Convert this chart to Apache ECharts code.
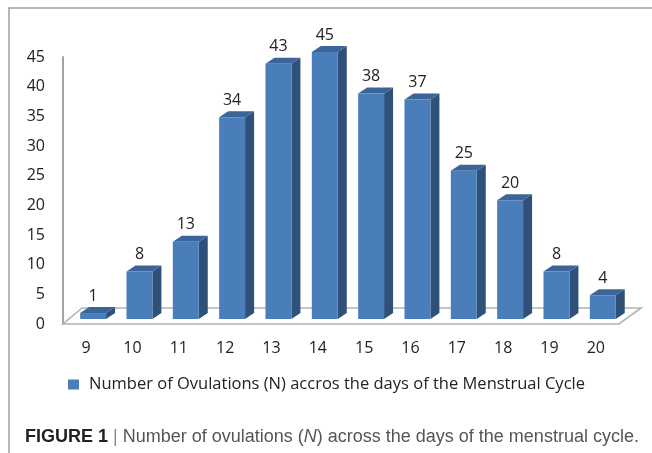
<!DOCTYPE html>
<html>
<head>
<meta charset="utf-8">
<script src="https://cdn.jsdelivr.net/npm/echarts@6/dist/echarts.min.js"></script>
<style>
  html, body { margin: 0; padding: 0; background: #fff; }
  #chart { width: 652px; height: 453px; }
</style>
</head>
<body>
<div id="chart"></div>
<script>
  // days of the cycle and number of ovulations per day
  const days = ['9', '10', '11', '12', '13', '14', '15', '16', '17', '18', '19', '20'];
  const ovulations = [1, 8, 13, 34, 43, 45, 38, 37, 25, 20, 8, 4];
  const yMax = 45;
  const yStep = 5;
  const seriesName = 'Number of Ovulations (N) accros the days of the Menstrual Cycle';

  const FRONT = '#4a7ebb';
  const SIDE = '#2f5079';
  const TOP = '#3b6498';
  const FONT = '"Open Sans", sans-serif';
  const CAP_FONT = '"Liberation Sans", Arial, sans-serif';

  let chart = echarts.init(document.getElementById('chart'));

  // floor of the 3d plot, drawn from grid rect
  function renderFloor(params, api) {
    let cs = params.coordSys;
    let yb = cs.y + cs.height;
    return {
      type: 'polygon',
      shape: {
        points: [[cs.x, yb], [cs.x + cs.width, yb], [cs.x + cs.width + 22, yb - 16], [cs.x + 19, yb - 16]]
      },
      style: { fill: '#fff', stroke: '#b3b3b3', lineWidth: 1.6 }
    };
  }

  function renderBar(params, api) {
    let i = api.value(0);
    let v = api.value(1);
    let base = api.coord([i, 0]);
    let top = api.coord([i, v]);
    let band = api.size([1, 0])[0];
    let off = 5;          // bars stand a bit behind the front edge
    let dx = 9, dy = 6;   // depth of bar
    let x1 = base[0] - band * 0.13;
    let w = band * 0.56;
    let yb = base[1] - off;
    let yt = top[1] - off;
    return {
      type: 'group',
      children: [
        {
          type: 'polygon',
          shape: { points: [[x1 + w, yb], [x1 + w, yt], [x1 + w + dx, yt - dy], [x1 + w + dx, yb - dy]] },
          style: { fill: SIDE }
        },
        {
          type: 'polygon',
          shape: { points: [[x1, yt], [x1 + w, yt], [x1 + w + dx, yt - dy], [x1 + dx, yt - dy]] },
          style: { fill: TOP }
        },
        {
          type: 'rect',
          shape: { x: x1, y: yt, width: w, height: yb - yt },
          style: { fill: FRONT }
        },
        {
          type: 'text',
          style: {
            text: String(v),
            x: x1 + w / 2,
            y: yt - dy - 3,
            align: 'center',
            verticalAlign: 'bottom',
            font: '16px ' + FONT,
            fill: '#222'
          }
        }
      ]
    };
  }

  let option = {
    animation: false,
    grid: {
      left: 63,
      right: 33,
      top: 57,
      bottom: 129
    },
    legend: {
      left: 63,
      top: 371,
      itemWidth: 11,
      itemHeight: 10,
      icon: 'rect',
      textStyle: { fontSize: 16.5, fontFamily: FONT, color: '#222', padding: [0, 0, 0, 5] },
      data: [seriesName]
    },
    xAxis: {
      type: 'category',
      data: days,
      axisLine: { show: false },
      axisTick: { show: false },
      axisLabel: { margin: 16, fontSize: 16, fontFamily: FONT, color: '#222' }
    },
    yAxis: {
      type: 'value',
      min: 0,
      max: yMax,
      interval: yStep,
      axisLine: { show: true, lineStyle: { color: '#a3a3a3', width: 2 } },
      axisTick: { show: false },
      splitLine: { show: false },
      axisLabel: { margin: 18, fontSize: 16, fontFamily: FONT, color: '#222' }
    },
    graphic: [
      {
        type: 'rect',
        shape: { x: 9, y: 8, width: 700, height: 500 },
        style: { fill: 'none', stroke: '#a0a0a0', lineWidth: 1.5 },
        z: -10
      },
      {
        type: 'text',
        left: 25,
        top: 428,
        style: {
          text: '{b|FIGURE 1} {s||} Number of ovulations ({i|N}) across the days of the menstrual cycle.',
          font: '18px ' + CAP_FONT,
          fill: '#555',
          rich: {
            b: { fontWeight: 'bold', fontSize: 18, fontFamily: CAP_FONT, fill: '#222' },
            s: { fontSize: 18, fontFamily: CAP_FONT, fill: '#888' },
            i: { fontStyle: 'italic', fontSize: 18, fontFamily: CAP_FONT, fill: '#555' }
          }
        }
      }
    ],
    series: [
      {
        type: 'custom',
        name: 'floor',
        silent: true,
        renderItem: renderFloor,
        data: [[0, 0]],
        z: 1
      },
      {
        type: 'custom',
        name: seriesName,
        renderItem: renderBar,
        itemStyle: { color: FRONT },
        encode: { x: 0, y: 1 },
        data: ovulations.map((v, i) => [i, v]),
        z: 2
      }
    ]
  };
  chart.setOption(option);
</script>
</body>
</html>
